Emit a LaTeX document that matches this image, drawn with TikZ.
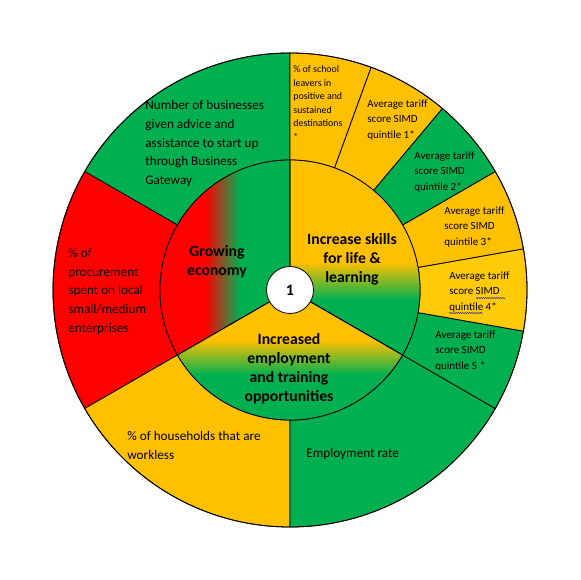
\documentclass[tikz,border=0pt]{standalone}
\usepackage{fontspec}
\setmainfont{Carlito}
\usetikzlibrary{shapes.geometric, decorations.pathmorphing}
\definecolor{cgreen}{HTML}{00B050}
\definecolor{cgold}{HTML}{FFC000}
\definecolor{cgoldlt}{HTML}{FFCA08}
\definecolor{cred}{HTML}{FF0000}
\tikzset{
  every picture/.style={line width=0.8pt},
  ring/.style={draw=black, line width=0.8pt},
  lbl/.style={align=left, anchor=west, inner sep=0pt, font=\fontsize{13.2}{18.7}\selectfont},
  tiny/.style={align=left, anchor=west, inner sep=0pt, font=\fontsize{9.9}{13.6}\selectfont},
  tariff/.style={align=left, anchor=west, inner sep=0pt, font=\fontsize{11}{15.2}\selectfont},
  aim/.style={align=center, inner sep=0pt, font=\fontsize{15.7}{19}\selectfont\bfseries},
  hub/.style={circle, draw=black, fill=white, minimum size=47pt, inner sep=0pt, font=\fontsize{16}{19}\selectfont\bfseries},
  spell/.style={draw=blue!75!black, line width=0.4pt, decorate, decoration={snake, amplitude=0.5pt, segment length=2.2pt}},
}
\def\rin{130pt}
\def\rout{237pt}

\begin{document}
\begin{tikzpicture}[x=1pt, y=1pt]
  \useasboundingbox (-290,-290) rectangle (290,290);
  % outer ring of measures
  \foreach \a/\b/\c in {90/150/cgreen, 150/210/cred, 210/270/cgold, 270/330/cgreen,
                        330/350/cgreen, 350/370/cgoldlt, 10/30/cgold, 30/50/cgreen, 50/70/cgold, 70/90/cgold} {
    \draw[ring, fill=\c] (\a:\rin) arc[start angle=\a, end angle=\b, radius=\rin]
      -- (\b:\rout) arc[start angle=\b, end angle=\a, radius=\rout] -- cycle;
  }
  % inner ring: growing economy (red to green)
  \begin{scope}
    \clip (0,0) -- (90:\rin) arc[start angle=90, end angle=210, radius=\rin] -- cycle;
    \fill[cred] (-140,-140) rectangle (-85,140);
    \shade[left color=cred, right color=cgreen] (-85,-140) rectangle (-50,140);
    \fill[cgreen] (-50,-140) rectangle (0,140);
  \end{scope}
  % skills (yellow to green)
  \begin{scope}
    \clip (0,0) -- (-30:\rin) arc[start angle=-30, end angle=90, radius=\rin] -- cycle;
    \fill[cgold] (0,28) rectangle (140,140);
    \shade[top color=cgold, bottom color=cgreen] (0,-10) rectangle (140,28);
    \fill[cgreen] (0,-140) rectangle (140,-10);
  \end{scope}
  % employment (yellow to green)
  \begin{scope}
    \clip (0,0) -- (210:\rin) arc[start angle=210, end angle=330, radius=\rin] -- cycle;
    \fill[cgold] (-140,-50) rectangle (140,10);
    \shade[top color=cgold, bottom color=cgreen] (-140,-85) rectangle (140,-50);
    \fill[cgreen] (-140,-140) rectangle (140,-85);
  \end{scope}
  \foreach \a/\b in {90/210, 210/330, -30/90} {
    \draw[ring] (0,0) -- (\a:\rin) arc[start angle=\a, end angle=\b, radius=\rin] -- cycle;
  }
  \draw[ring] (0,0) circle[radius=\rout];

  \node[hub] (hub) at (0,0) {1};

  \node[aim] (econ) at (-73,28.5) {Growing\\economy};
  \node[aim] (skills) at (62,31) {Increase skills\\for life \&\\learning};
  \node[aim] (employ) at (-1,-78.5) {Increased\\employment\\and training\\opportunities};

  \node[lbl] (biz) at (-145,146.5) {Number of businesses\\given advice and\\assistance to start up\\through Business\\Gateway};
  \node[lbl] (proc) at (-222,-1.5) {\% of\\procurement\\spent on local\\small/medium\\enterprises};
  \node[lbl] (house) at (-163,-155.5) {\% of households that are\\workless};
  \node[lbl] (rate) at (16,-164) {Employment rate};

  \node[tiny] (leavers) at (3,187) {\% of school\\leavers in\\positive and\\sustained\\destinations\\*};
  \node[tariff] (q1) at (77,170) {Average tariff\\score SIMD\\quintile 1*};
  \node[tariff] (q2) at (124,118) {Average tariff\\score SIMD\\quintile 2*};
  \node[tariff] (q3) at (154,63) {Average tariff\\score SIMD\\quintile 3*};
  \node[tariff] (q4) at (159,-2) {Average tariff\\score SIMD\\quintile 4*};
  \node[tariff] (q5) at (145,-61) {Average tariff\\score SIMD\\quintile 5 *};
  % spell-check marks
  \draw[spell] (186,-8) -- (215,-8);
  \draw[spell] (159,-23) -- (193,-23);
\end{tikzpicture}
\end{document}
